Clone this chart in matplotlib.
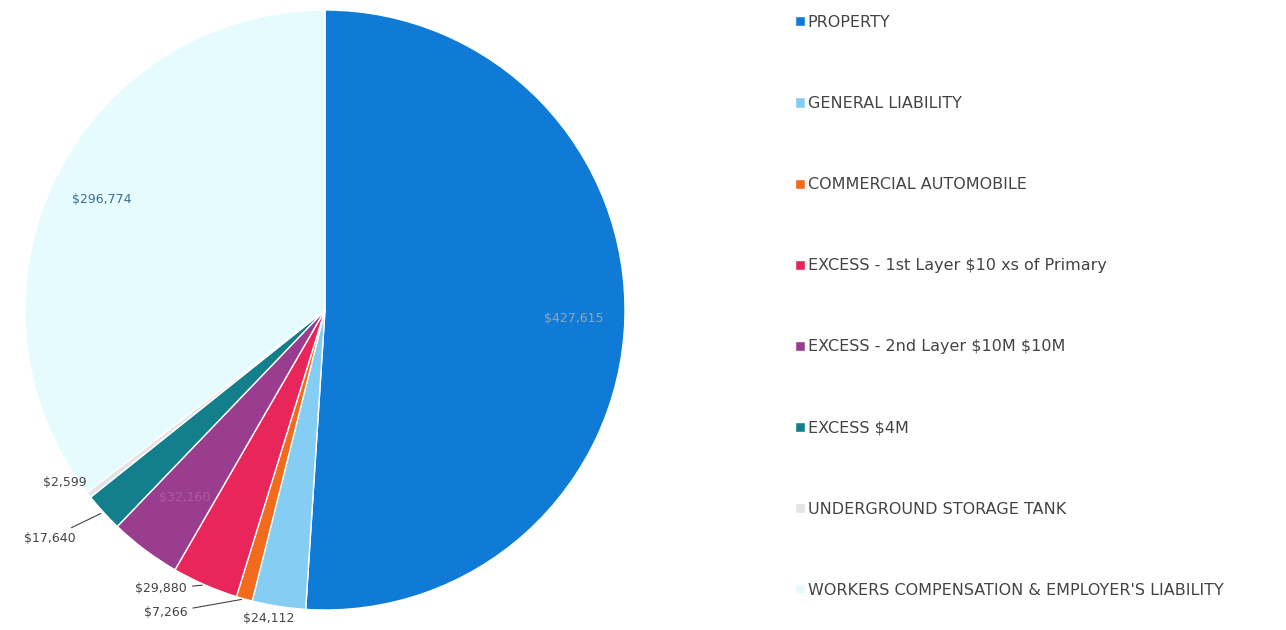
import numpy as np
import matplotlib
matplotlib.use("Agg")
import matplotlib.pyplot as plt

plt.rcParams["text.parse_math"] = False

# premium by line of coverage
categories = [
    "PROPERTY",
    "GENERAL LIABILITY",
    "COMMERCIAL AUTOMOBILE",
    "EXCESS - 1st Layer $10 xs of Primary",
    "EXCESS - 2nd Layer $10M $10M",
    "EXCESS $4M",
    "UNDERGROUND STORAGE TANK",
    "WORKERS COMPENSATION & EMPLOYER'S LIABILITY",
]
premiums = [427615, 24112, 7266, 29880, 32160, 17640, 2599, 296774]
colors = ["#0f7bd6", "#86cdf3", "#f26b1d", "#e8265a", "#9b3d8e",
          "#137f8c", "#e4e4e4", "#e6fbfd"]

# how each value label is drawn: inside the slice or outside with a leader
inside = [True, False, False, False, True, False, False, True]
inside_colors = {0: "#9aa3ad", 4: "#b0589f", 7: "#3c6d94"}
# offsets (pixels) of outside labels from the slice edge
outside_offsets = {1: (-10, -12), 2: (-57, -14), 3: (-18, -4),
                   5: (-28, -26), 6: (-2, 12)}
leaders = {2, 3, 5}

W, H = 1286, 630
fig = plt.figure(figsize=(W / 100, H / 100), dpi=100, facecolor="white")

ax = fig.add_axes([25 / W, 20 / H, 600 / W, 600 / H])
wedges, _ = ax.pie(premiums, colors=colors, startangle=90, counterclock=False,
                   radius=1.0, wedgeprops=dict(edgecolor="white", linewidth=1.0))
ax.set_xlim(-1, 1)
ax.set_ylim(-1, 1)
ax.set_aspect("equal")
ax.axis("off")

for i, w in enumerate(wedges):
    mid = np.deg2rad((w.theta1 + w.theta2) / 2)
    label = "${:,}".format(premiums[i])
    if inside[i]:
        r = 0.83 if i != 4 else 0.78
        ax.text(r * np.cos(mid), r * np.sin(mid), label, ha="center", va="center",
                fontsize=9, color=inside_colors[i])
    else:
        pt = (np.cos(mid), np.sin(mid))
        dx, dy = outside_offsets[i]
        ha = "center" if i == 1 else "right"
        arrow = dict(arrowstyle="-", color="#444444", lw=0.8) if i in leaders else None
        ax.annotate(label, xy=pt, xytext=(dx, dy), textcoords="offset pixels",
                    ha=ha, va="center", fontsize=9, color="#444444",
                    arrowprops=arrow, annotation_clip=False)

fig.legend(wedges, categories, loc="upper left",
           bbox_to_anchor=(795 / W, 1 - 15 / H), frameon=False,
           fontsize=11.5, labelcolor="#444444", labelspacing=4.14,
           handlelength=0.6, handleheight=0.6, handletextpad=0.2,
           borderpad=0, borderaxespad=0)

fig.savefig("out.png", dpi=100, facecolor="white")
